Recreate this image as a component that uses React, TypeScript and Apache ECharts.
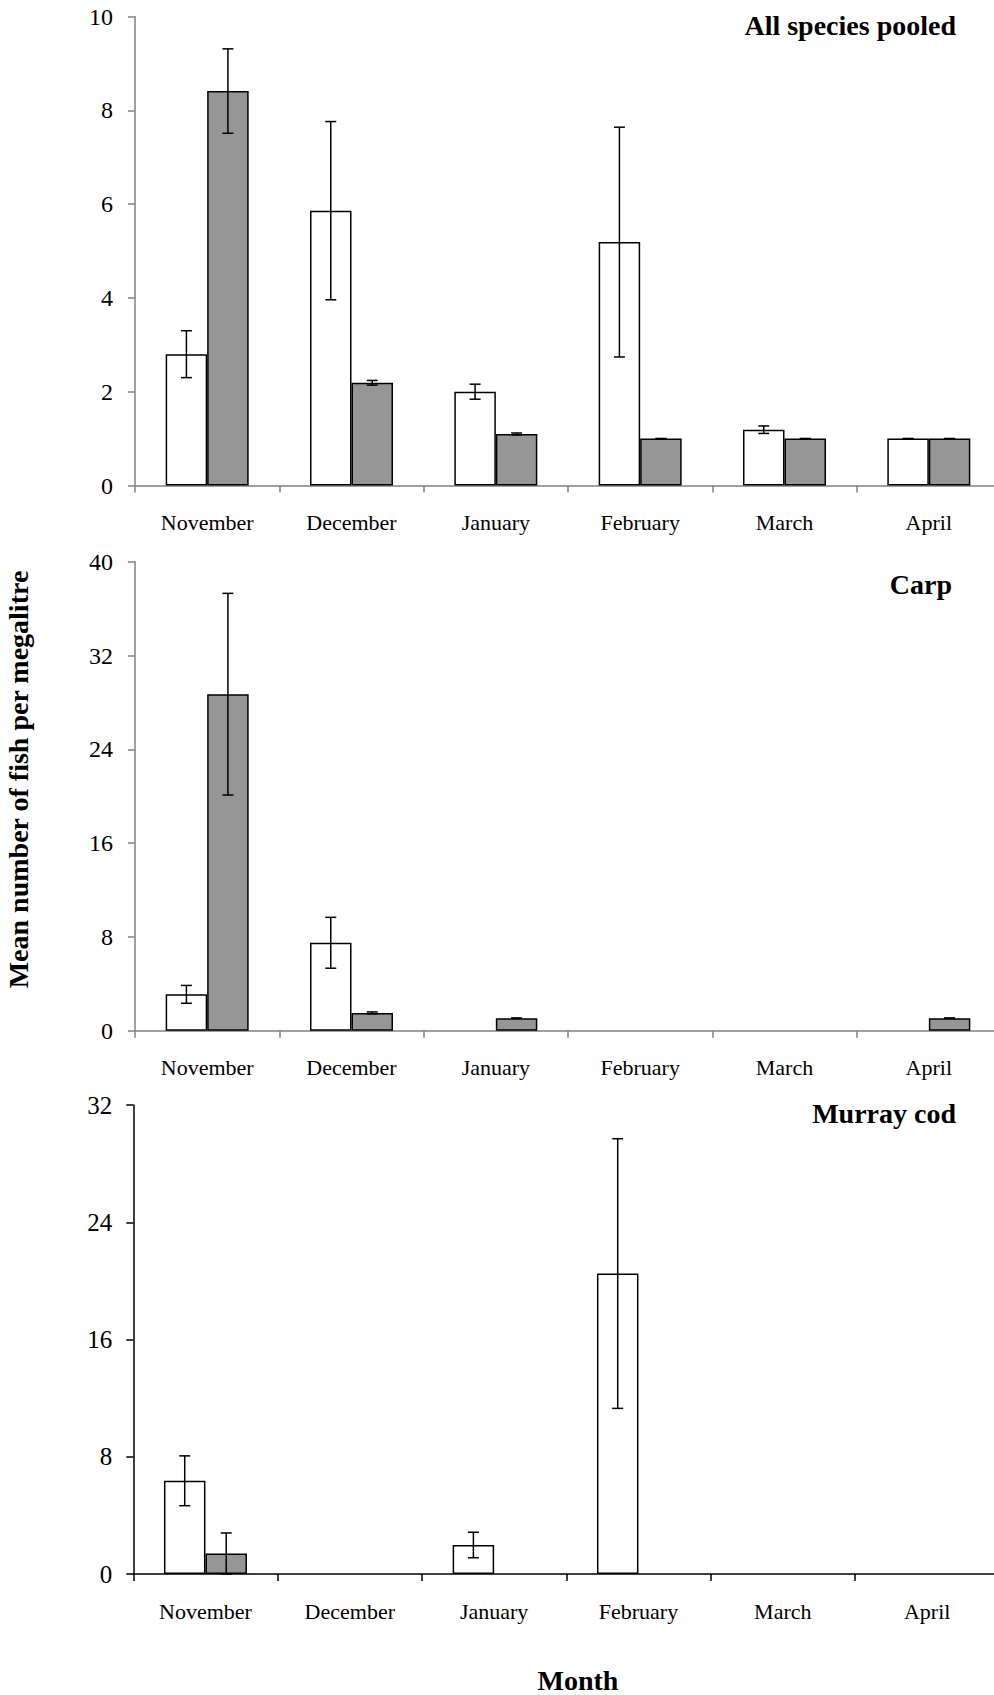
import React, { useEffect, useRef } from 'react';
import * as echarts from 'echarts';

const months = ['November', 'December', 'January', 'February', 'March', 'April'];

// All species pooled
const pooledWhite = [2.8, 5.86, 2.0, 5.19, 1.19, 1.0];
const pooledWhiteErr = [0.5, 1.9, 0.16, 2.45, 0.08, 0];
const pooledGrey = [8.41, 2.19, 1.1, 1.0, 1.0, 1.0];
const pooledGreyErr = [0.9, 0.05, 0.02, 0, 0, 0];
const pooledTicks = { max: 10, interval: 2 };

// Carp
const carpWhite = [3.1, 7.5, null, null, null, null];
const carpWhiteErr = [0.76, 2.17, null, null, null, null];
const carpGrey = [28.7, 1.52, 1.07, null, null, 1.07];
const carpGreyErr = [8.6, 0.08, 0, null, null, 0];
const carpTicks = { max: 40, interval: 8 };

// Murray cod
const codWhite = [6.36, null, 1.98, 20.5, null, null];
const codWhiteErr = [1.7, null, 0.87, 9.2, null, null];
const codGrey = [1.4, null, null, null, null, null];
const codGreyErr = [1.4, null, null, null, null, null];
const codTicks = { max: 32, interval: 8 };

const panelTitles = ['All species pooled', 'Carp', 'Murray cod'];
const yAxisTitle = 'Mean number of fish per megalitre';
const xAxisTitle = 'Month';

const FONT = '"Liberation Serif", "Times New Roman", serif';
const BAR_W = 41.5;

const panels = [
  { white: pooledWhite, whiteErr: pooledWhiteErr, grey: pooledGrey, greyErr: pooledGreyErr, ticks: pooledTicks,
    left: 135, top: 16.5, axisColor: '#808080', yFont: 24, yMargin: 22 },
  { white: carpWhite, whiteErr: carpWhiteErr, grey: carpGrey, greyErr: carpGreyErr, ticks: carpTicks,
    left: 135, top: 561.7, axisColor: '#808080', yFont: 24, yMargin: 22 },
  { white: codWhite, whiteErr: codWhiteErr, grey: codGrey, greyErr: codGreyErr, ticks: codTicks,
    left: 133.3, top: 1105, axisColor: '#000000', yFont: 25, yMargin: 21 },
];

const titlePos = [
  { x: 956, y: 25 },
  { x: 952, y: 584 },
  { x: 956, y: 1113 },
];

function errData(vals: (number | null)[], errs: (number | null)[], side: number) {
  const out: number[][] = [];
  vals.forEach((v, i) => {
    const e = errs[i];
    if (v !== null && e !== null) out.push([i, v, e, side]);
  });
  return out;
}

function App() {
  const ref = useRef<HTMLDivElement>(null);
  useEffect(() => {
    if (!ref.current) return;
    const chart = echarts.init(ref.current, null, { renderer: 'svg' });

    const grid: any[] = [];
    const xAxis: any[] = [];
    const yAxis: any[] = [];
    const series: any[] = [];

    panels.forEach((p, k) => {
      grid.push({ left: p.left, top: p.top, width: 866, height: 469, containLabel: false, outerBoundsMode: 'none' });
      xAxis.push({
        type: 'category',
        gridIndex: k,
        data: months,
        boundaryGap: true,
        axisLine: { lineStyle: { color: p.axisColor, width: 1.5 } },
        axisTick: { show: true, length: 7, alignWithLabel: false, lineStyle: { color: p.axisColor, width: 1.5 } },
        axisLabel: { color: '#000', fontFamily: FONT, fontSize: 22, margin: 26, interval: 0 },
        splitLine: { show: false },
      });
      yAxis.push({
        type: 'value',
        gridIndex: k,
        min: 0,
        max: p.ticks.max,
        interval: p.ticks.interval,
        axisLine: { show: true, lineStyle: { color: p.axisColor, width: 1.5 } },
        axisTick: { show: true, length: 7, lineStyle: { color: p.axisColor, width: 1.5 } },
        axisLabel: { color: '#000', fontFamily: FONT, fontSize: p.yFont, margin: p.yMargin },
        splitLine: { show: false },
      });
      const toBar = (arr: (number | null)[]) => arr.map((v) => (v === null ? '-' : v));
      series.push({
        type: 'bar',
        xAxisIndex: k,
        yAxisIndex: k,
        data: toBar(p.white),
        barWidth: BAR_W,
        barGap: '0%',
        itemStyle: { color: '#ffffff', borderColor: '#000', borderWidth: 1.5 },
      });
      series.push({
        type: 'bar',
        xAxisIndex: k,
        yAxisIndex: k,
        data: toBar(p.grey),
        barWidth: BAR_W,
        barGap: '0%',
        itemStyle: { color: '#969696', borderColor: '#000', borderWidth: 1.5 },
      });
      series.push({
        type: 'custom',
        xAxisIndex: k,
        yAxisIndex: k,
        z: 5,
        encode: { x: 0, y: 1 },
        data: [...errData(p.white, p.whiteErr, -1), ...errData(p.grey, p.greyErr, 1)],
        renderItem: (params: any, api: any) => {
          const x = api.value(0);
          const v = api.value(1);
          const e = api.value(2);
          const side = api.value(3);
          const top = api.coord([x, v + e]);
          const bot = api.coord([x, Math.max(v - e, 0)]);
          const cx = top[0] + (side * BAR_W) / 2;
          const cap = 5.5;
          const st = { stroke: '#000', lineWidth: 1.5 };
          return {
            type: 'group',
            children: [
              { type: 'line', shape: { x1: cx, y1: top[1], x2: cx, y2: bot[1] }, style: st },
              { type: 'line', shape: { x1: cx - cap, y1: top[1], x2: cx + cap, y2: top[1] }, style: st },
              { type: 'line', shape: { x1: cx - cap, y1: bot[1], x2: cx + cap, y2: bot[1] }, style: st },
            ],
          };
        },
      });
    });

    const graphics: any[] = panelTitles.map((t, i) => ({
      type: 'text',
      x: titlePos[i].x,
      y: titlePos[i].y,
      style: {
        text: t,
        fontFamily: FONT,
        fontWeight: 'bold',
        fontSize: 28,
        fill: '#000',
        align: 'right',
        verticalAlign: 'middle',
      },
    }));
    graphics.push({
      type: 'text',
      x: 578,
      y: 1680,
      style: {
        text: xAxisTitle,
        fontFamily: FONT,
        fontWeight: 'bold',
        fontSize: 28,
        fill: '#000',
        align: 'center',
        verticalAlign: 'middle',
      },
    });
    graphics.push({
      type: 'text',
      x: 18,
      y: 779.5,
      rotation: Math.PI / 2,
      style: {
        text: yAxisTitle,
        fontFamily: FONT,
        fontWeight: 'bold',
        fontSize: 28,
        fill: '#000',
        align: 'center',
        verticalAlign: 'middle',
      },
    });

    chart.setOption({
      animation: false,
      backgroundColor: '#ffffff',
      textStyle: { fontFamily: FONT },
      grid,
      xAxis,
      yAxis,
      series,
      graphic: graphics,
    });
    return () => chart.dispose();
  }, []);
  return (
    <div
      ref={ref}
      style={{ position: 'absolute', left: 0, top: 0, width: 994, height: 1695, background: '#fff' }}
    />
  );
}

export default App;
